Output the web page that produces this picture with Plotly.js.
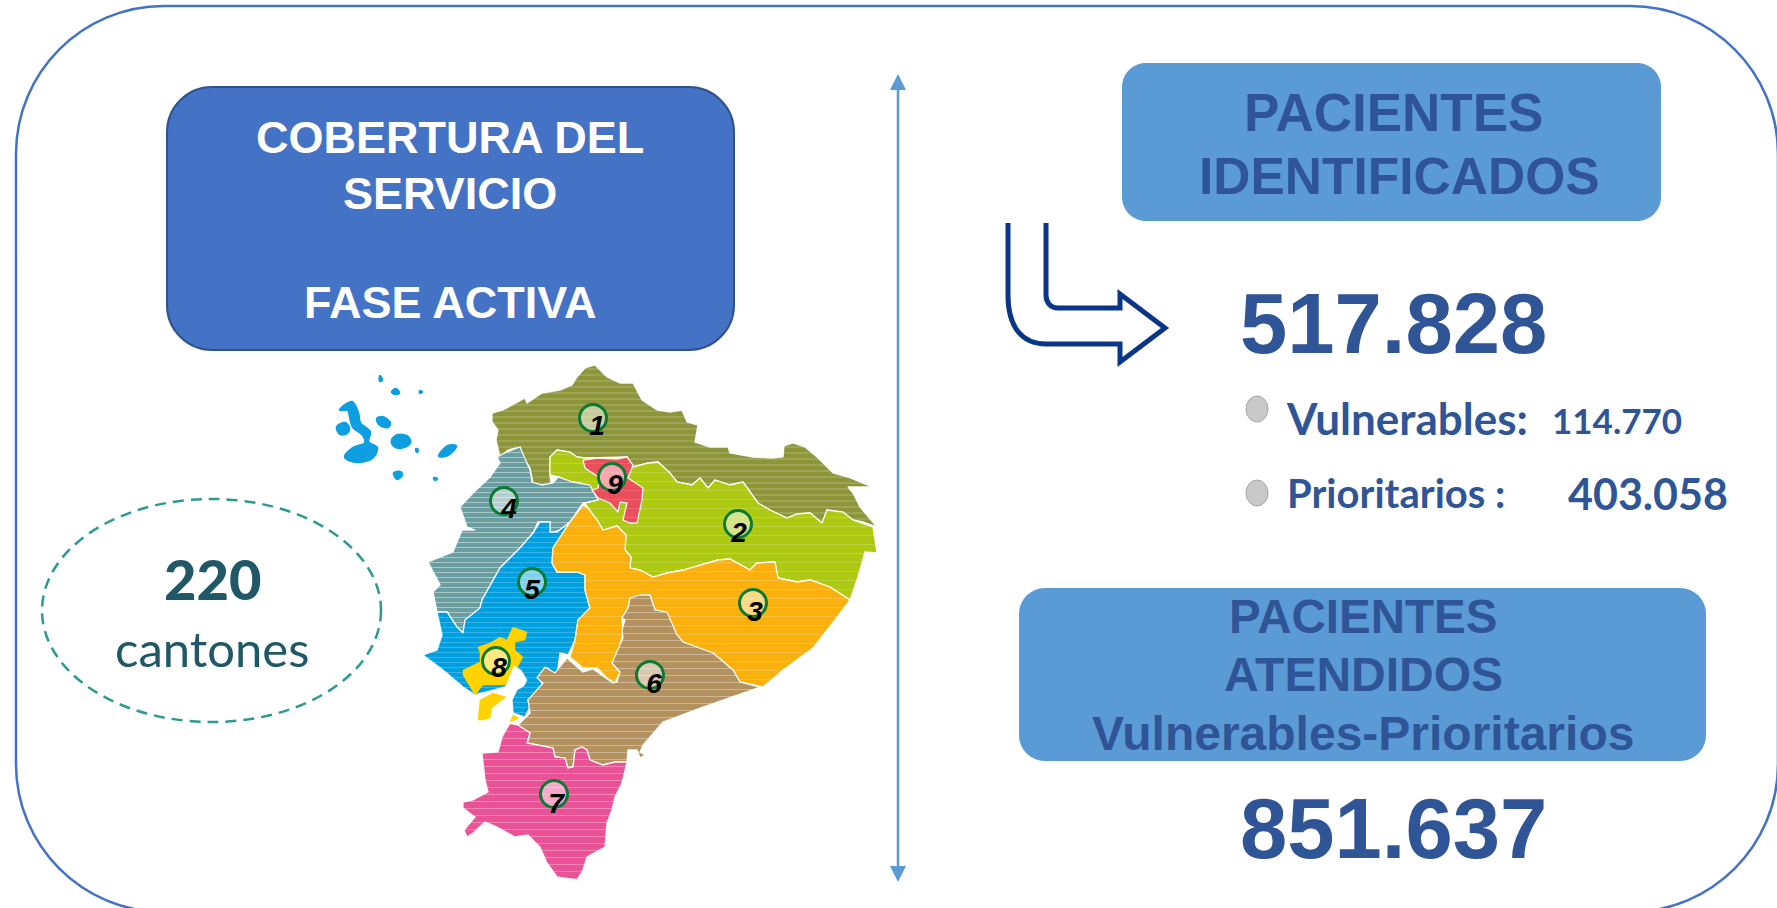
<!DOCTYPE html>
<html><head><meta charset="utf-8">
<script src="https://cdn.plot.ly/plotly-3.0.1.min.js"></script>
<style>html,body{margin:0;padding:0;background:#fff;overflow:hidden}#c{width:1777px;height:908px}</style>
</head><body><div id="c"></div>
<script>
// Province groups (outline vertices)
const zone1=[[492,413],[503,410],[525,398],[527,403],[542,393],[560,390],[572,385],[577,377],[585,368],[595,365],[607,377],[620,383],[633,383],[642,400],[657,410],[670,412],[682,410],[687,422],[698,425],[695,442],[710,447],[728,447],[730,453],[753,457],[772,458],[783,457],[784,446],[793,443],[805,447],[817,457],[833,473],[848,477],[872,487],[848,487],[853,493],[860,507],[877,527],[863,522],[853,520],[843,512],[827,510],[822,523],[810,513],[797,514],[787,518],[770,510],[758,503],[743,482],[730,485],[715,480],[708,488],[700,478],[692,485],[677,482],[670,473],[658,462],[648,463],[633,467],[627,457],[613,458],[585,458],[577,457],[570,452],[557,450],[550,457],[550,475],[551,485],[540,485],[533,483],[530,468],[523,457],[520,447],[508,450],[500,457],[496,440],[498,430],[492,422]];
const zone2=[[550,475],[550,457],[557,450],[570,452],[577,457],[585,458],[627,457],[633,467],[648,463],[658,462],[670,473],[677,482],[692,485],[700,478],[708,488],[715,480],[730,485],[743,482],[758,503],[770,510],[787,518],[797,514],[810,513],[822,523],[827,510],[843,512],[853,520],[873,527],[877,553],[865,552],[858,577],[850,600],[830,587],[810,580],[797,582],[778,578],[775,562],[757,563],[750,570],[730,559],[718,560],[700,565],[683,570],[667,573],[653,577],[640,570],[630,568],[631,557],[625,550],[626,535],[617,526],[603,530],[597,520],[588,508],[585,503],[597,500],[592,490],[580,483],[570,482],[560,477]];
const zone3=[[583,505],[588,508],[597,520],[603,530],[617,526],[626,535],[625,550],[631,557],[630,568],[640,570],[653,577],[667,573],[683,570],[700,565],[718,560],[730,559],[750,570],[757,563],[775,562],[778,578],[797,582],[810,580],[830,587],[850,600],[835,620],[813,648],[783,670],[763,687],[740,682],[733,670],[713,653],[683,642],[672,633],[667,620],[655,610],[650,595],[630,598],[628,608],[622,618],[623,633],[620,645],[622,650],[612,663],[620,672],[615,683],[607,678],[597,668],[583,668],[570,657],[575,640],[578,620],[590,608],[585,590],[585,575],[577,572],[557,572],[552,563],[553,548],[570,522]];
const zone4=[[497,457],[507,452],[520,447],[524,457],[530,470],[532,482],[542,485],[553,483],[558,477],[573,482],[590,485],[598,500],[583,503],[570,522],[560,530],[550,533],[550,522],[538,522],[533,533],[520,548],[500,568],[482,600],[480,608],[465,620],[463,633],[457,627],[447,612],[437,612],[433,592],[440,585],[428,562],[453,552],[462,530],[475,530],[467,527],[460,507],[473,493],[490,477],[500,463]];
const zone5=[[540,522],[550,522],[550,532],[557,532],[570,522],[553,548],[552,563],[557,572],[577,572],[585,575],[585,590],[590,608],[578,620],[575,640],[568,655],[560,653],[557,675],[547,668],[540,680],[543,685],[532,697],[528,700],[530,707],[525,717],[513,713],[512,700],[520,683],[475,695],[463,687],[443,670],[423,655],[437,650],[442,635],[437,612],[447,612],[457,627],[463,633],[465,620],[480,608],[482,600],[500,568],[520,548],[533,533]];
const zone6=[[640,595],[650,595],[655,610],[667,612],[677,635],[683,642],[713,653],[733,670],[740,682],[760,687],[703,707],[663,722],[643,745],[640,752],[645,755],[640,758],[637,750],[628,750],[627,762],[615,762],[603,765],[590,760],[587,750],[582,747],[575,750],[573,767],[568,768],[565,758],[555,757],[553,748],[527,743],[530,733],[518,725],[530,713],[528,700],[543,683],[537,678],[545,667],[555,673],[567,658],[583,672],[593,669],[613,683],[617,682],[620,672],[612,663],[623,638],[622,630],[625,620],[622,618],[628,608],[630,598]];
const zone7=[[510,723],[518,725],[530,733],[527,743],[553,748],[555,757],[565,758],[568,768],[573,767],[575,750],[582,747],[587,750],[590,760],[603,765],[615,762],[627,762],[622,783],[615,797],[612,810],[607,823],[605,847],[587,857],[583,870],[577,880],[557,877],[547,863],[540,847],[528,835],[515,837],[497,827],[485,822],[473,833],[467,837],[464,830],[475,817],[463,808],[463,802],[473,800],[488,792],[485,780],[482,753],[498,752],[502,737]];
const zone8a=[[510,633],[513,627],[527,632],[525,640],[515,642],[515,650],[523,657],[520,663],[517,668],[517,683],[507,685],[483,685],[475,695],[463,675],[463,670],[480,662],[480,653],[478,647],[490,643],[500,637],[507,640]];
const zone8b=[[478,720],[480,700],[493,693],[506,697],[498,703],[492,708],[490,718],[483,720]];
const zone8c=[[510,722],[513,715],[519,718]];
const zone9=[[583,460],[598,458],[617,459],[627,457],[633,465],[628,478],[643,488],[642,500],[637,523],[630,523],[623,520],[627,503],[620,502],[618,512],[610,503],[598,498],[592,490],[598,488],[600,478],[593,473],[585,468]];
const estuary=[[514,666],[521,670],[527,680],[524,686],[517,690],[505,688]];
const galapagos=[
 [[340,410],[352,402],[358,413],[360,423],[370,432],[368,442],[377,448],[372,458],[357,462],[345,457],[353,448],[365,443],[363,435],[353,427],[350,417],[348,410]],
 [[337,427],[345,423],[349,428],[347,433],[340,434]],
 [[377,419],[382,417],[390,423],[388,427],[380,425]],
 [[392,440],[398,435],[408,437],[410,443],[400,448],[393,445]],
 [[439,456],[448,446],[456,446],[448,455]],
 [[394,473],[400,472],[402,475],[397,479]],
 [[392,392],[396,389],[399,393],[395,394]],
 [[380,376],[382,380],[380,381]],
 [[416,449],[418,450],[417,452]],
 [[420,391],[422,392],[420,393]],
 [[434,478],[437,479],[435,480]]
];
// Numbered markers
const zoneLabels=['1','2','3','4','5','6','7','8','9'];
const markerX=[593,738,753,504,532,650,554,496,612];
const markerY=[418,524,603,501,582,675,794,661,477];
const labelX=[597,739,755,509,532,654,556,499,615];
const labelY=[428,535,614,511,592,686,806,670,487];
// Headline figures
const identificados='517.828', atendidos='851.637', vulnerables='114.770', prioritarios='403.058', cantones='220';
const bulletY=[409,493];

const NAVY='#2F5597', BOX='#5B9BD5', ROYAL='#4472C4';
function zone(pts,color,sz,sol,op){
  return {type:'scatter',mode:'lines',x:pts.map(p=>p[0]).concat(pts[0][0]),y:pts.map(p=>p[1]).concat(pts[0][1]),
    fill:'toself',fillcolor:color,line:{color:'rgba(255,255,255,0.9)',width:1.3},hoverinfo:'skip',showlegend:false,
    fillpattern:{shape:'-',bgcolor:color,fgcolor:'#ffffff',fgopacity:op,size:sz,solidity:sol}};
}
function plain(pts,color,lw,smooth){
  return {type:'scatter',mode:'lines',x:pts.map(p=>p[0]).concat(pts[0][0]),y:pts.map(p=>p[1]).concat(pts[0][1]),
    fill:'toself',fillcolor:color,line:{color:color,width:lw||0.5,shape:smooth?'spline':'linear',smoothing:1},hoverinfo:'skip',showlegend:false};
}
const traces=[
  zone(zone1,'#8C9538',6,0.17,0.28), zone(zone2,'#ADC912',9,0.1,0.2), zone(zone4,'#6A9EA0',5,0.2,0.42),
  zone(zone5,'#00A0E0',5,0.17,0.25), zone(zone3,'#FAB00D',9,0.1,0.22), zone(zone6,'#B3925F',7,0.14,0.35),
  zone(zone7,'#EA5297',7,0.14,0.3), plain(zone8a,'#FFD200'), plain(zone8b,'#FFD200'), plain(zone8c,'#FFD200'),
  plain(estuary,'#ffffff'), zone(zone9,'#EC4F5C',9,0.1,0.15)
];
galapagos.forEach(g=>traces.push(plain(g,'#0F9FE0',2.5,true)));
traces.push({type:'scatter',mode:'markers',x:markerX,y:markerY,hoverinfo:'skip',showlegend:false,
  marker:{size:27,color:'rgba(255,255,255,0.5)',line:{color:'#0B7A33',width:3}}});
traces.push({type:'scatter',mode:'text',x:labelX,y:labelY,text:zoneLabels,textposition:'middle center',hoverinfo:'skip',showlegend:false,
  textfont:{family:'Liberation Sans',size:28,color:'#000',weight:700,style:'italic'}});

function rr(x0,y0,x1,y1,r){
  const k=r*0.4477;
  return `M${x0+r},${y0} L${x1-r},${y0} C${x1-k},${y0} ${x1},${y0+k} ${x1},${y0+r} L${x1},${y1-r} C${x1},${y1-k} ${x1-k},${y1} ${x1-r},${y1} L${x0+r},${y1} C${x0+k},${y1} ${x0},${y1-k} ${x0},${y1-r} L${x0},${y0+r} C${x0},${y0+k} ${x0+k},${y0} ${x0+r},${y0} Z`;
}
const shapes=[
  {type:'path',path:rr(16,6,1778,912,148),line:{color:ROYAL,width:2.5},fillcolor:'rgba(0,0,0,0)'},
  {type:'path',path:rr(167,87,734,350,45),line:{color:'#2F528F',width:2},fillcolor:ROYAL},
  {type:'path',path:rr(1122,63,1661,221,24),line:{width:0},fillcolor:BOX},
  {type:'path',path:rr(1019,588,1706,761,26),line:{width:0},fillcolor:BOX},
  {type:'circle',x0:42,y0:499,x1:381,y1:722,line:{color:'#2C9A8E',width:2.5,dash:'11px,7px'}},
  {type:'line',x0:898,y0:85,x1:898,y1:872,line:{color:BOX,width:2.5}},
  {type:'path',path:'M898,74 L906,90 L890,90 Z',fillcolor:BOX,line:{width:0}},
  {type:'path',path:'M898,882 L906,866 L890,866 Z',fillcolor:BOX,line:{width:0}},
  {type:'path',path:'M1008,223 L1008,295 C1008,327 1022,344 1046,344 L1120,344 L1120,362 L1165,328 L1120,294 L1120,308 L1058,308 C1050,308 1046,302 1046,295 L1046,223',fillcolor:'rgba(0,0,0,0)',line:{color:'#0B3586',width:5}},
  ...bulletY.map(y=>({type:'circle',x0:1246,x1:1268,y0:y-13,y1:y+13,fillcolor:'#C9C9C9',line:{color:'#A6A6A6',width:1}}))
];
function t(x,y,text,size,color,family,weight,xanchor){
  return {xref:'x',yref:'y',x,y,text,showarrow:false,xanchor:xanchor||'center',yanchor:'middle',
    font:{family:family||'Liberation Sans',size,color,weight:weight===undefined?700:weight}};
}
const annotations=[
  t(450,137,'COBERTURA DEL',45,'#fff'),t(450,193,'SERVICIO',45,'#fff'),t(450,302,'FASE ACTIVA',45,'#fff'),
  t(1393,112,'PACIENTES',53,NAVY),t(1399,176,'IDENTIFICADOS',51.5,NAVY),
  t(1393,323,identificados,85,NAVY),t(1393,828,atendidos,85,NAVY),
  t(1363,616,'PACIENTES',47.5,NAVY),t(1363,674,'ATENDIDOS',48,NAVY),t(1363,733,'Vulnerables-Prioritarios',48,NAVY),
  t(1284,418,'Vulnerables:',44,NAVY,'Lato',700,'left'),t(1550,420,vulnerables,35,NAVY,'Lato',700,'left'),
  t(1285,493,'Prioritarios :',40,NAVY,'Lato',700,'left'),t(1566,493,prioritarios,43,NAVY,'Lato',700,'left'),
  t(212,578,cantones,56,'#215868','Lato',900),t(212,648,'cantones',49,'#215868','Lato',400)
];
const ax={range:[0,1777],visible:false,fixedrange:true};
Plotly.newPlot('c',traces,{width:1777,height:908,margin:{l:0,r:0,t:0,b:0},paper_bgcolor:'#fff',plot_bgcolor:'#fff',showlegend:false,
  xaxis:ax,yaxis:{range:[908,0],visible:false,fixedrange:true},shapes,annotations},{displayModeBar:false,staticPlot:true});
</script></body></html>
